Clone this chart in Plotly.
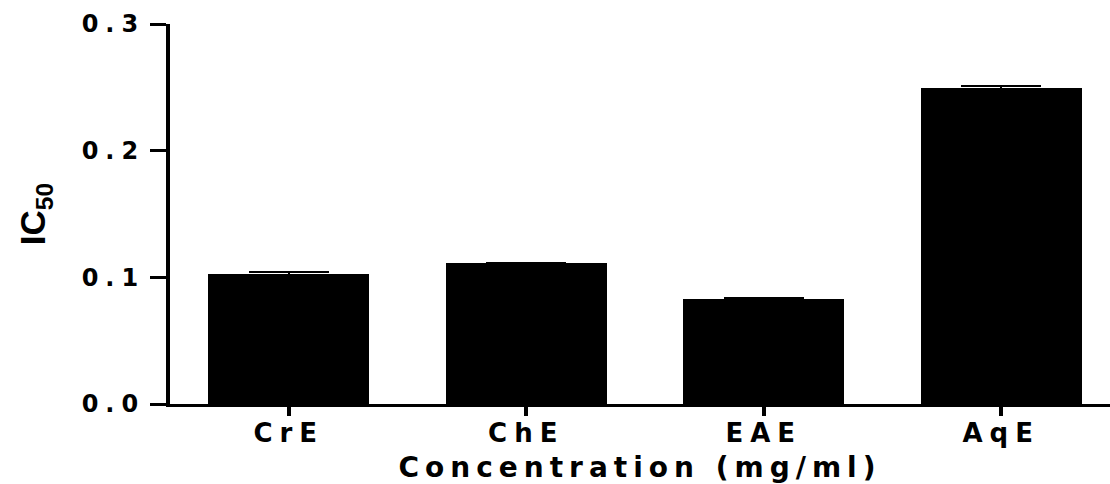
import plotly.graph_objects as go

categories = ["CrE", "ChE", "EAE", "AqE"]
ic50_values = [0.1025, 0.1112, 0.0828, 0.2496]
ic50_errors = [0.0020, 0.0005, 0.0010, 0.0012]
y_tick_values = [0.0, 0.1, 0.2, 0.3]
y_tick_labels = ["0.0", "0.1", "0.2", "0.3"]
x_title = "Concentration (mg/ml)"
y_title = "IC<sub>50</sub>"

FONT = "DejaVu Sans"


def spaced(t, px):
    return f'<b><span style="letter-spacing:{px}px">{t}</span></b>'


x_pos = list(range(len(categories)))

fig = go.Figure()
fig.add_trace(go.Bar(
    x=x_pos,
    y=ic50_values,
    width=0.676,
    marker=dict(color="black", line=dict(width=0)),
    error_y=dict(type="data", array=ic50_errors, visible=True,
                 color="black", thickness=2, width=40),
    showlegend=False,
))

fig.update_layout(
    width=1110, height=484,
    margin=dict(l=170, r=0, t=24, b=80),
    plot_bgcolor="white", paper_bgcolor="white",
    bargap=0,
    font=dict(family=FONT, color="black"),
    xaxis=dict(
        range=[-0.5, 3.458],
        tickmode="array", tickvals=x_pos,
        ticktext=[spaced(c, 7) for c in categories],
        ticks="outside", ticklen=9, tickwidth=4, tickcolor="black",
        ticklabelstandoff=-5,
        showline=True, linewidth=3, linecolor="black",
        showgrid=False, zeroline=False,
        tickfont=dict(family=FONT, size=26),
        title=dict(text=spaced(x_title, 6),
                   font=dict(family=FONT, size=28),
                   standoff=11),
    ),
    yaxis=dict(
        range=[0, 0.3],
        tickmode="array", tickvals=y_tick_values,
        ticktext=[spaced(t, 7) for t in y_tick_labels],
        ticks="outside", ticklen=16, tickwidth=3, tickcolor="black",
        showline=True, linewidth=4, linecolor="black",
        showgrid=False, zeroline=False,
        tickfont=dict(family=FONT, size=24),
        title=dict(text="<b>" + y_title + "</b>",
                   font=dict(family="Liberation Sans", size=35),
                   standoff=26),
    ),
)

fig.write_html("out.html")
